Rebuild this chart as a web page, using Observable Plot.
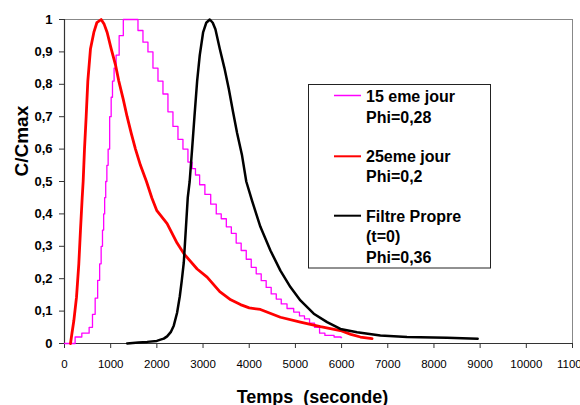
<!DOCTYPE html>
<html>
<head>
<meta charset="utf-8">
<script src="https://cdn.jsdelivr.net/npm/d3@7"></script>
<script src="https://cdn.jsdelivr.net/npm/@observablehq/plot@0.6"></script>
<style>
  html, body { margin: 0; padding: 0; background: #fff; }
  #chart { width: 580px; height: 405px; position: relative; }
</style>
</head>
<body>
<div id="chart"></div>
<script>
// ---- data (time in seconds, C/Cmax) ----
const jour15 = [
  [0,0],[200,0],[260,0.02],[490,0.032],[577,0.05],[635,0.09],[693,0.14],[743,0.195],
  [779,0.246],[808,0.30],[837,0.35],[859,0.40],[880,0.45],[905,0.50],[930,0.55],[960,0.60],
  [996,0.70],[1025,0.76],[1053,0.81],[1095,0.85],[1140,0.89],[1227,0.95],[1320,1.0],[1537,1.0],
  [1645,0.966],[1753,0.93],[1861,0.90],[1970,0.85],[2078,0.81],[2186,0.77],[2294,0.715],
  [2403,0.67],[2511,0.63],[2619,0.60],[2727,0.56],[2800,0.54],[2872,0.52],[2980,0.49],
  [3100,0.46],[3232,0.43],[3340,0.40],[3448,0.385],[3560,0.36],[3665,0.34],[3770,0.31],
  [3881,0.287],[3990,0.26],[4097,0.235],[4205,0.215],[4314,0.194],[4420,0.173],[4531,0.153],
  [4640,0.137],[4747,0.122],[4890,0.108],[5036,0.097],[5140,0.085],[5253,0.076],[5360,0.063],
  [5469,0.05],[5577,0.032],[5700,0.025],[5974,0.02],[6000,0.018]
];
const jour25 = [
  [130,0],[160,0.03],[202,0.07],[260,0.143],[310,0.246],[346,0.35],[383,0.45],[404,0.50],
  [433,0.60],[469,0.70],[505,0.81],[563,0.91],[635,0.96],[700,0.99],[794,1.0],[860,0.985],
  [924,0.96],[1010,0.91],[1104,0.86],[1176,0.81],[1270,0.755],[1356,0.70],[1443,0.65],
  [1537,0.60],[1645,0.55],[1775,0.50],[1890,0.45],[2000,0.41],[2222,0.37],[2438,0.31],
  [2597,0.275],[2872,0.23],[3088,0.205],[3362,0.16],[3600,0.135],[3810,0.12],[4000,0.11],
  [4242,0.105],[4675,0.081],[5108,0.066],[5541,0.052],[5974,0.04],[6200,0.028],[6407,0.02],
  [6660,0.015]
];
const filtrePropre = [
  [1356,0],[1600,0.003],[1790,0.005],[2000,0.008],[2078,0.012],[2150,0.015],[2222,0.022],
  [2300,0.035],[2366,0.055],[2438,0.095],[2496,0.145],[2540,0.195],[2583,0.25],[2626,0.35],
  [2669,0.45],[2710,0.50],[2763,0.60],[2814,0.70],[2872,0.81],[2929,0.89],[3001,0.96],
  [3070,0.99],[3146,1.0],[3210,0.99],[3268,0.97],[3362,0.91],[3463,0.85],[3557,0.786],
  [3651,0.714],[3737,0.65],[3845,0.58],[3936,0.50],[4062,0.44],[4242,0.36],[4459,0.287],
  [4675,0.225],[4892,0.174],[5108,0.133],[5397,0.092],[5686,0.066],[5974,0.045],[6335,0.035],
  [6840,0.025],[7417,0.02],[8283,0.018],[8946,0.015]
];

const xTicks = [0,1000,2000,3000,4000,5000,6000,7000,8000,9000,10000,11000];
const yTicks = [0,0.1,0.2,0.3,0.4,0.5,0.6,0.7,0.8,0.9,1];
const yTickLabels = ["0","0,1","0,2","0,3","0,4","0,5","0,6","0,7","0,8","0,9","1"];
const xTitle = "Temps  (seconde)";
const yTitle = "C/Cmax";
const legendLines = [
  ["15 eme jour", "Phi=0,28"],
  ["25eme jour", "Phi=0,2"],
  ["Filtre Propre", "(t=0)", "Phi=0,36"]
];
const seriesColors = ["#ff00ff", "#ff0000", "#000000"];
const seriesWidths = [1.3, 2.8, 2.5];

const toObj = arr => arr.map(([t, v]) => ({t, v}));
const FONT = "'Liberation Sans', Arial, Helvetica, sans-serif";

const chart = Plot.plot({
  width: 580,
  height: 405,
  marginLeft: 64,
  marginRight: 8,
  marginTop: 19,
  marginBottom: 62,
  style: {fontFamily: FONT, background: "#fff", color: "#000"},
  x: {domain: [0, 11000], ticks: xTicks},
  y: {domain: [0, 1], ticks: yTicks},
  marks: [
    Plot.ruleY([1], {stroke: "#888", strokeWidth: 1}),
    Plot.ruleX([11000], {stroke: "#888", strokeWidth: 1}),
    Plot.axisX({ticks: xTicks, tickFormat: d => String(d), tickSize: 5, tickPadding: 11,
      fontSize: 11.5, label: null, stroke: "#333", fill: "#000"}),
    Plot.axisY({ticks: yTicks, tickFormat: d => yTickLabels[yTicks.indexOf(d)] ?? "", tickSize: 5,
      tickPadding: 7, fontSize: 13, fontWeight: "bold", label: null, stroke: "#333", fill: "#000"}),
    Plot.ruleX([0], {stroke: "#333", strokeWidth: 1.2}),
    Plot.ruleY([0], {stroke: "#333", strokeWidth: 1.2}),
    Plot.line(toObj(jour15), {x: "t", y: "v", stroke: seriesColors[0], strokeWidth: seriesWidths[0], curve: "step"}),
    Plot.line(toObj(jour25), {x: "t", y: "v", stroke: seriesColors[1], strokeWidth: seriesWidths[1]}),
    Plot.line(toObj(filtrePropre), {x: "t", y: "v", stroke: seriesColors[2], strokeWidth: seriesWidths[2]}),
    Plot.text([xTitle], {frameAnchor: "bottom", lineAnchor: "bottom", dy: 59, dx: -6,
      fontSize: 18, fontWeight: "bold", fill: "#000"}),
    Plot.text([yTitle], {frameAnchor: "left", rotate: -90, dx: -43, dy: -5,
      fontSize: 19, fontWeight: "bold", fill: "#000"})
  ]
});

// Legend box (layout overlay, in pixels)
const svg = d3.select(chart);
const lg = svg.append("g").attr("font-family", FONT).attr("font-weight", "bold")
  .attr("font-size", 16).attr("text-anchor", "start");
lg.append("rect").attr("x", 308.5).attr("y", 84.5).attr("width", 182).attr("height", 183.5)
  .attr("fill", "#fff").attr("stroke", "#222").attr("stroke-width", 1);
const baselines = [[101.7, 122.5], [161.7, 182.3], [221.7, 242.3, 262.7]];
const sampleY = [95.5, 156.3, 215.7];
legendLines.forEach((lines, i) => {
  lg.append("line").attr("x1", 334).attr("x2", 361).attr("y1", sampleY[i]).attr("y2", sampleY[i])
    .attr("stroke", seriesColors[i]).attr("stroke-width", i === 0 ? 1.5 : 2);
  lines.forEach((txt, j) => {
    lg.append("text").attr("x", 366).attr("y", baselines[i][j]).attr("fill", "#000")
      .attr("text-anchor", "start").text(txt);
  });
});

document.getElementById("chart").appendChild(chart);
</script>
</body>
</html>
